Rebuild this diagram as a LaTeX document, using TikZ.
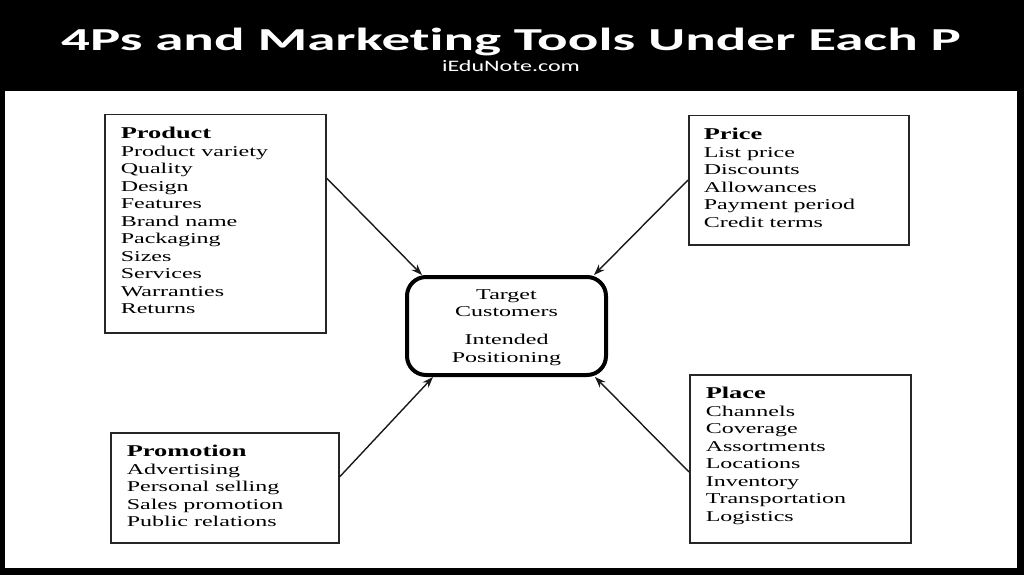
\documentclass[tikz,border=0pt]{standalone}
\usepackage{fontspec}
\setmainfont{Liberation Serif}
\newfontfamily\boxfont[FakeStretch=1.6]{Liberation Serif}
\newfontfamily\titlefont[FakeStretch=1.78,Ligatures=NoCommon]{Carlito}
\newfontfamily\subfont[FakeStretch=1.5,Ligatures=NoCommon]{Carlito}
\usetikzlibrary{arrows.meta}
\newcommand\boxlines[3]{\parbox[b][#1][t]{#2}{\rule{0pt}{24pt}#3}}
\newcommand\hd[1]{{\fontsize{16.5}{17.5}\selectfont\bfseries #1}}
\tikzset{
  pbox/.style={draw=black!85, line width=1.5pt, inner xsep=16pt, inner ysep=0pt,
    anchor=north west, font=\boxfont\fontsize{15}{17.5}\selectfont},
  hub/.style={draw=black, line width=4pt, rounded corners=19pt, inner sep=0pt,
    font=\boxfont\fontsize{15}{17.5}\selectfont},
  conn/.style={-{Stealth[length=11pt,width=8pt]}, line width=1.4pt, black!90},
  ttl/.style={text=white, anchor=base, inner sep=0pt},
}
\begin{document}
\begin{tikzpicture}[x=1pt,y=-1pt]
\useasboundingbox (0,0) rectangle (1024,575);
\fill[black] (0,0) rectangle (1024,575);
\fill[white] (5,91) rectangle (1017,568);
\node[ttl, font=\titlefont\bfseries\fontsize{32}{40}\selectfont] (title) at (511,51) {4Ps and Marketing Tools Under Each P};
\node[ttl, font=\subfont\fontsize{16}{19}\selectfont] (sub) at (511,72) {iEduNote.com};

\node[pbox] (prod) at (104,114) {\boxlines{218pt}{189pt}{\hd{Product}\\Product variety\\Quality\\Design\\Features\\Brand name\\Packaging\\Sizes\\Services\\Warranties\\Returns}};
\node[pbox, inner xsep=15pt] (price) at (688,115) {\boxlines{129pt}{190pt}{\hd{Price}\\List price\\Discounts\\Allowances\\Payment period\\Credit terms}};
\node[pbox] (place) at (689,374) {\boxlines{168pt}{189pt}{\hd{Place}\\Channels\\Coverage\\Assortments\\Locations\\Inventory\\Transportation\\Logistics}};
\node[pbox] (promo) at (110,432) {\boxlines{110pt}{196pt}{\hd{Promotion}\\Advertising\\Personal selling\\Sales promotion\\Public relations}};

\node[hub] (hub) at (506.5,326) {\parbox[b][98pt][t]{199pt}{\centering\rule{0pt}{22pt}Target\\Customers\\[10.5pt]Intended\\Positioning}};

\draw[conn] ([yshift=-64pt]prod.north east) -- ([xshift=17pt]hub.north west);
\draw[conn] ([yshift=-65pt]price.north west) -- ([xshift=-14pt]hub.north east);
\draw[conn] ([yshift=-45pt]promo.north east) -- ([xshift=28pt]hub.south west);
\draw[conn] ([yshift=-98pt]place.north west) -- ([xshift=-13pt]hub.south east);
\end{tikzpicture}
\end{document}
